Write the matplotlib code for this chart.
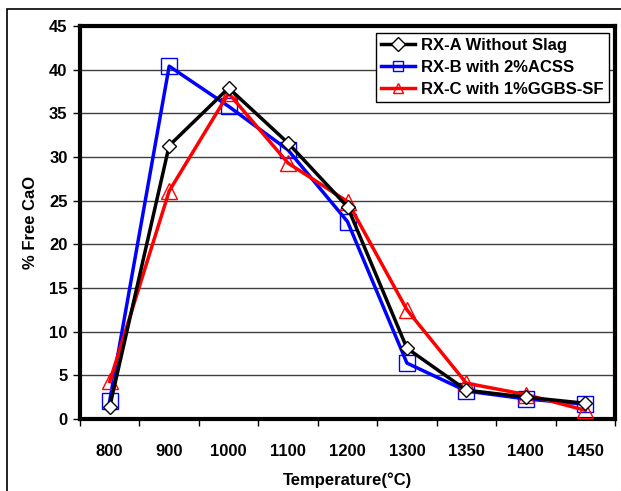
import matplotlib
matplotlib.use("Agg")
import matplotlib.pyplot as plt
from matplotlib.patches import Rectangle
import numpy as np

plt.rcParams['font.family'] = ['Liberation Sans', 'DejaVu Sans']
plt.rcParams['font.weight'] = 'bold'

temps = ['800', '900', '1000', '1100', '1200', '1300', '1350', '1400', '1450']
rx_a = [1.4, 31.3, 37.9, 31.6, 24.3, 8.1, 3.3, 2.5, 1.8]
rx_b = [2.1, 40.4, 35.8, 30.8, 22.6, 6.4, 3.2, 2.3, 1.7]
rx_c = [4.3, 26.1, 37.3, 29.3, 24.9, 12.5, 4.1, 2.8, 1.0]
labels = ['RX-A Without Slag', 'RX-B with 2%ACSS', 'RX-C with 1%GGBS-SF']

fig = plt.figure(figsize=(6.21, 4.91), dpi=100)
fig.patches.append(Rectangle((7/621, -0.1), 1.2, (491-9)/491 + 0.1, transform=fig.transFigure,
                             fill=False, edgecolor='black', linewidth=1.2))
ax = fig.add_axes([80/621, (491-419)/491, 535/621, (419-26)/491])

x = np.arange(len(temps))
ax.plot(x, rx_a, color='black', lw=2.5, marker='D', ms=7.5, mfc='white', mec='black', mew=1.0, label=labels[0], zorder=5)
ax.plot(x, rx_b, color='#0000ff', lw=2.5, marker='s', ms=11, mfc='none', mec='#0000ff', mew=1.0, label=labels[1], zorder=4)
ax.plot(x, rx_c, color='#ff0000', lw=2.5, marker='^', ms=11, mfc='none', mec='#ff0000', mew=1.0, label=labels[2], zorder=4)

ax.set_xlim(-0.5, len(temps) - 0.5)
ax.set_ylim(0, 45)
ax.set_yticks(np.arange(0, 46, 5))
ax.set_xticks(x)
ax.set_xticklabels(temps)
ax.set_xticks(np.arange(-0.5, len(temps), 1), minor=True)
ax.tick_params(axis='x', which='major', length=0, pad=18, labelsize=12)
ax.tick_params(axis='x', which='minor', length=5, width=1, direction='out')
ax.tick_params(axis='y', length=5, width=1, direction='out', labelsize=12, pad=4)
for t in ax.get_xticklabels() + ax.get_yticklabels():
    t.set_fontweight('bold')

ax.yaxis.grid(True, color='#404040', linewidth=1.0)
ax.set_axisbelow(True)
for s in ax.spines.values():
    s.set_linewidth(3)
    s.set_color('black')

ax.set_xlabel('Temperature(°C)', fontsize=12, fontweight='bold', labelpad=10)
ax.set_ylabel('% Free CaO', fontsize=12, fontweight='bold', labelpad=8)

leg = ax.legend(loc='upper right', bbox_to_anchor=(0.995, 0.99), fontsize=12, frameon=True,
                fancybox=False, edgecolor='black', framealpha=1, handlelength=2.0,
                borderpad=0.3, labelspacing=0.4, handletextpad=0.4, borderaxespad=0.2)
leg.get_frame().set_linewidth(1.0)
for t in leg.get_texts():
    t.set_fontweight('bold')
for h in leg.legend_handles:
    h.set_markersize(7)

fig.savefig('out.png', dpi=100)
